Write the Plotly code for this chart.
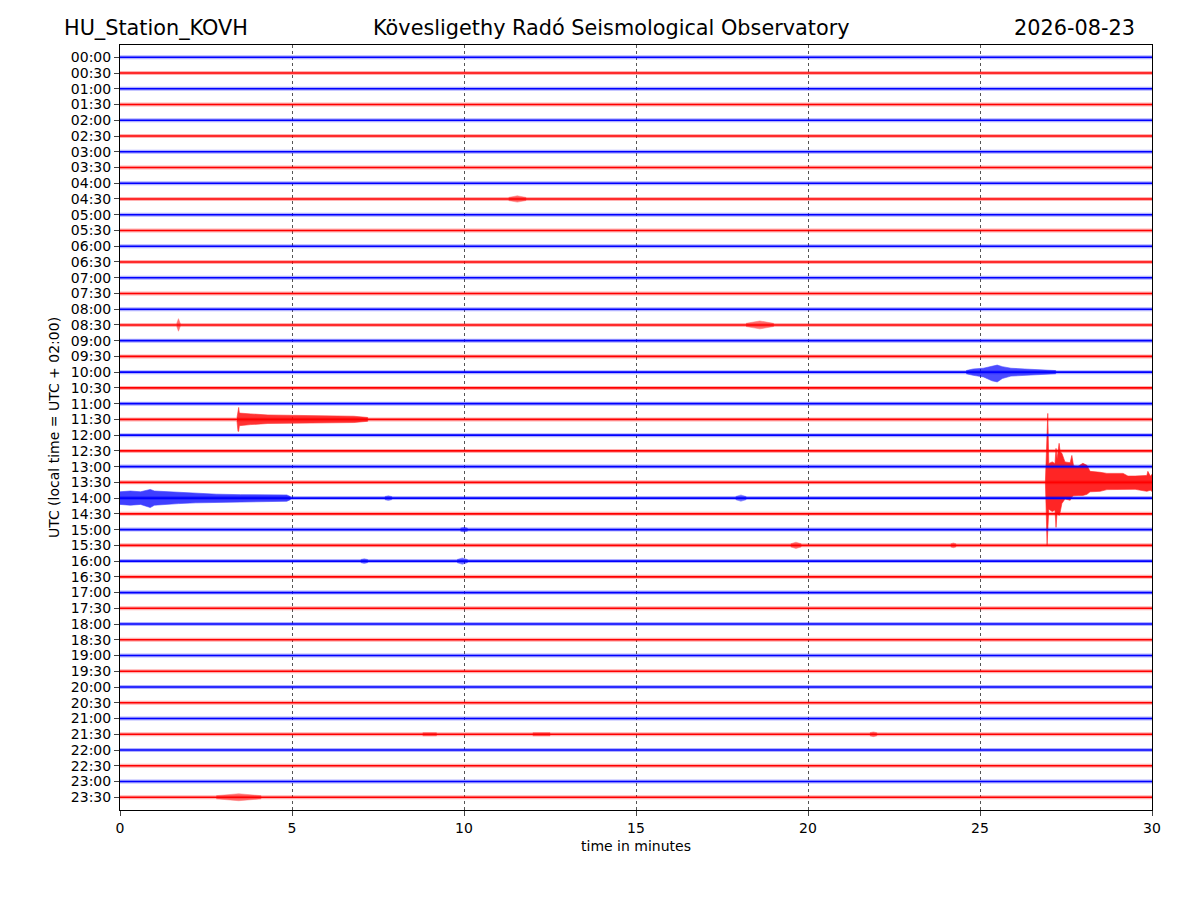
"""Helicorder day plot for station KOVH, redrawn with plotly."""

import plotly.graph_objects as go

# one row per half hour, minutes 0..30 along x
row_labels = [
    "00:00", "00:30", "01:00", "01:30", "02:00", "02:30", "03:00", "03:30",
    "04:00", "04:30", "05:00", "05:30", "06:00", "06:30", "07:00", "07:30",
    "08:00", "08:30", "09:00", "09:30", "10:00", "10:30", "11:00", "11:30",
    "12:00", "12:30", "13:00", "13:30", "14:00", "14:30", "15:00", "15:30",
    "16:00", "16:30", "17:00", "17:30", "18:00", "18:30", "19:00", "19:30",
    "20:00", "20:30", "21:00", "21:30", "22:00", "22:30", "23:00", "23:30",
]
minute_ticks = [0, 5, 10, 15, 20, 25, 30]

# envelopes of the larger events (minutes, amplitude up / down in row heights)
quake_row = "13:30"
quake_t = [26.90, 26.92, 26.95, 26.97, 27.00, 27.10, 27.18, 27.21, 27.24, 27.30,
           27.33, 27.38, 27.47, 27.62, 27.67, 27.72, 27.85, 27.99, 28.11, 28.20,
           28.49, 28.69, 29.16, 29.30, 29.51, 29.85, 29.88, 29.95, 30.00]
quake_up = [0.00, 1.27, 4.38, 4.38, 1.20, 1.30, 1.20, 2.16, 1.50, 2.48,
            1.95, 1.85, 1.30, 1.25, 1.71, 1.05, 1.02, 1.21, 1.08, 0.70,
            0.64, 0.57, 0.57, 0.40, 0.40, 0.44, 0.70, 0.40, 0.50]
quake_dn = [0.00, 1.50, 4.00, 4.00, 1.70, 1.85, 1.75, 2.86, 1.95, 2.10,
            1.90, 1.35, 1.05, 1.14, 0.92, 0.85, 0.83, 0.83, 0.76, 0.60,
            0.57, 0.46, 0.44, 0.44, 0.44, 0.57, 0.57, 0.50, 0.57]

local_row = "11:30"
local_t = [3.40, 3.43, 3.45, 3.47, 3.55, 3.80, 4.30, 5.00, 6.00, 6.80, 7.20]
local_up = [0.10, 0.76, 0.76, 0.40, 0.38, 0.35, 0.28, 0.25, 0.22, 0.20, 0.12]
local_dn = [0.10, 0.76, 0.76, 0.40, 0.38, 0.33, 0.26, 0.25, 0.22, 0.20, 0.12]

early_row = "14:00"
early_t = [0.00, 0.30, 0.60, 0.88, 1.00, 1.30, 1.70, 2.20, 2.80, 3.50, 4.20, 4.85, 4.95]
early_up = [0.40, 0.45, 0.40, 0.55, 0.45, 0.42, 0.35, 0.30, 0.25, 0.22, 0.22, 0.20, 0.10]
early_dn = [0.40, 0.45, 0.40, 0.60, 0.45, 0.42, 0.35, 0.30, 0.25, 0.22, 0.22, 0.20, 0.10]

late_row = "10:00"
late_t = [24.60, 24.80, 25.10, 25.35, 25.50, 25.65, 25.90, 26.30, 26.70, 27.20]
late_up = [0.10, 0.20, 0.25, 0.40, 0.45, 0.35, 0.25, 0.20, 0.15, 0.10]
late_dn = [0.10, 0.20, 0.30, 0.55, 0.62, 0.40, 0.25, 0.20, 0.15, 0.10]

# short noise bursts
burst_rows = ["04:30", "08:30", "08:30", "14:00", "14:00", "15:00", "15:30",
              "15:30", "16:00", "16:00", "23:30", "21:30", "21:30", "21:30"]
burst_start = [11.30, 1.65, 18.20, 7.70, 17.90, 9.90, 19.50,
               24.15, 7.00, 9.80, 2.80, 8.80, 12.00, 21.80]
burst_end = [11.80, 1.75, 19.00, 7.90, 18.20, 10.10, 19.80,
             24.30, 7.20, 10.10, 4.10, 9.20, 12.50, 22.00]
burst_amp = [0.20, 0.40, 0.25, 0.15, 0.20, 0.15, 0.20,
             0.15, 0.15, 0.20, 0.22, 0.12, 0.12, 0.15]

BLUE = "#0000ff"
RED = "#ff0000"
FONT = "DejaVu Sans"


def row_y(label):
    return -row_labels.index(label)


def row_color(label):
    return BLUE if row_labels.index(label) % 2 == 0 else RED


def envelope(label, t, up, dn):
    base = row_y(label)
    xs = list(t) + list(reversed(t))
    ys = [base + u for u in up] + [base - d for d in reversed(dn)]
    return xs, ys


fig = go.Figure()

# events first so the row lines stay visible on top
events = [
    (quake_row, quake_t, quake_up, quake_dn, 0.85),
    (local_row, local_t, local_up, local_dn, 0.8),
    (early_row, early_t, early_up, early_dn, 0.75),
    (late_row, late_t, late_up, late_dn, 0.7),
]
for label, t, up, dn, alpha in events:
    xs, ys = envelope(label, t, up, dn)
    c = row_color(label)
    fig.add_trace(go.Scatter(
        x=xs, y=ys, mode="lines", fill="toself",
        fillcolor=c, opacity=alpha,
        line=dict(color=c, width=0.6),
        hoverinfo="skip", showlegend=False,
    ))

for label, t0, t1, a in zip(burst_rows, burst_start, burst_end, burst_amp):
    xs, ys = envelope(label, [t0, (t0 + t1) / 2, t1], [0.1, a, 0.1], [0.1, a, 0.1])
    c = row_color(label)
    fig.add_trace(go.Scatter(
        x=xs, y=ys, mode="lines", fill="toself",
        fillcolor=c, opacity=0.55,
        line=dict(color=c, width=0.5),
        hoverinfo="skip", showlegend=False,
    ))

# row baselines: a soft band for the background noise and a sharp core line
for colour in (BLUE, RED):
    xs, ys = [], []
    for label in row_labels:
        if row_color(label) != colour:
            continue
        xs += [minute_ticks[0], minute_ticks[-1], None]
        ys += [row_y(label), row_y(label), None]
    fig.add_trace(go.Scatter(
        x=xs, y=ys, mode="lines", line=dict(color=colour, width=4),
        opacity=0.3, hoverinfo="skip", showlegend=False,
    ))
    fig.add_trace(go.Scatter(
        x=xs, y=ys, mode="lines", line=dict(color=colour, width=1.6),
        hoverinfo="skip", showlegend=False,
    ))

# the page body adds an 8px offset, so margins are trimmed to compensate
fig.update_layout(
    width=1200, height=900,
    margin=dict(l=112, r=56, t=37, b=98),
    plot_bgcolor="white", paper_bgcolor="white",
    font=dict(family=FONT, size=14, color="black"),
    annotations=[
        dict(text="HU_Station_KOVH", x=-0.0562, y=1.0222, xref="paper", yref="paper",
             xanchor="left", yanchor="middle", showarrow=False, font=dict(size=20.8)),
        dict(text="Kövesligethy Radó Seismological Observatory", x=0.4758, y=1.0222,
             xref="paper", yref="paper", xanchor="center", yanchor="middle",
             showarrow=False, font=dict(size=20.8)),
        dict(text="2026-08-23", x=0.9855, y=1.0222, xref="paper", yref="paper",
             xanchor="right", yanchor="middle", showarrow=False, font=dict(size=20.8)),
    ],
)
fig.update_xaxes(
    range=[minute_ticks[0], minute_ticks[-1]],
    tickvals=minute_ticks, ticks="outside", ticklen=5, tickwidth=1,
    tickfont=dict(size=14),
    showgrid=True, gridcolor="#555555", gridwidth=0.7, griddash="dot",
    showline=True, linecolor="black", linewidth=1, mirror=True,
    zeroline=False,
    title=dict(text="time in minutes", standoff=6, font=dict(size=14)),
)
fig.update_yaxes(
    range=[-len(row_labels) + 1 - 0.81, 0.78],
    tickvals=[row_y(l) for l in row_labels], ticktext=row_labels,
    ticks="outside", ticklen=5, tickwidth=1,
    tickfont=dict(size=14),
    showgrid=False, zeroline=False,
    showline=True, linecolor="black", linewidth=1, mirror=True,
    title=dict(text="UTC (local time = UTC + 02:00)", standoff=7, font=dict(size=14)),
)

fig.write_html("out.html")
